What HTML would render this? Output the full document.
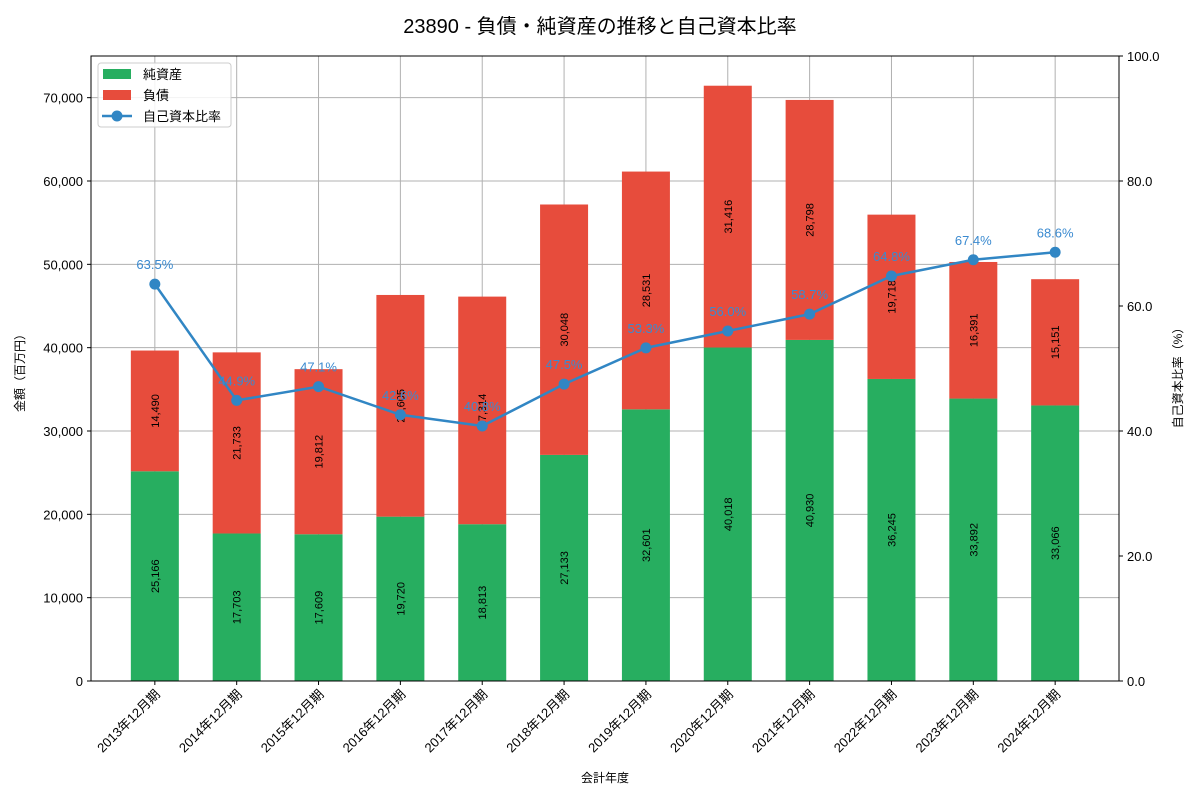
<!DOCTYPE html>
<html><head><meta charset="utf-8"><style>
body{margin:0;background:#fff;font-family:"Liberation Sans","Noto Sans CJK JP",sans-serif}
</style></head><body>
<svg id="c" width="1200" height="800" xmlns="http://www.w3.org/2000/svg" font-family="Liberation Sans, Noto Sans CJK JP, sans-serif">
<text x="600" y="33" text-anchor="middle" font-size="20" fill="#000">23890 - 負債・純資産の推移と自己資本比率</text>
<g id="g"></g>
</svg>
<script>
const categories=["2013年12月期","2014年12月期","2015年12月期","2016年12月期","2017年12月期","2018年12月期","2019年12月期","2020年12月期","2021年12月期","2022年12月期","2023年12月期","2024年12月期"];
const netAssets=[25166,17703,17609,19720,18813,27133,32601,40018,40930,36245,33892,33066];
const liabilities=[14490,21733,19812,26605,27314,30048,28531,31416,28798,19718,16391,15151];
const ratio=[63.5,44.9,47.1,42.6,40.8,47.5,53.3,56.0,58.7,64.8,67.4,68.6];
const leftTicks=[0,10000,20000,30000,40000,50000,60000,70000];
const rightTicks=[0,20,40,60,80,100];
const X0=91,X1=1119,Y0=681,Y1=56;
const n=categories.length;
const step=(X1-X0)/(n-1+2*0.78);
const xs=i=>X0+step*(i+0.78);
const yL=v=>Y0-(v/75000)*(Y0-Y1);
const yR=v=>Y0-(v/100)*(Y0-Y1);
const g=document.getElementById('g');
const NS="http://www.w3.org/2000/svg";
function el(t,a,txt){const e=document.createElementNS(NS,t);for(const k in a)e.setAttribute(k,a[k]);if(txt!==undefined)e.textContent=txt;g.appendChild(e);return e;}
const fmt=v=>v.toLocaleString('en-US');
categories.forEach((c,i)=>{const e=el('line',{x1:xs(i),x2:xs(i),y1:Y1,y2:Y0,stroke:'#b0b0b0','stroke-width':1});

});
leftTicks.forEach(t=>{const e=el('line',{x1:X0,x2:X1,y1:yL(t),y2:yL(t),stroke:'#b0b0b0','stroke-width':1});


const l=el('text',{x:X0-8,y:yL(t)+5,'text-anchor':'end','font-size':13},fmt(t));


el('line',{x1:X0-4,x2:X0,y1:yL(t),y2:yL(t),stroke:'#000'});});
rightTicks.forEach(t=>{const l=el('text',{x:X1+8,y:yR(t)+5,'font-size':13},t.toFixed(1));


el('line',{x1:X1,x2:X1+4,y1:yR(t),y2:yR(t),stroke:'#000'});});
const bw=48;
categories.forEach((c,i)=>{
const x=xs(i);const a=netAssets[i],l=liabilities[i];
const b1=el('rect',{x:x-bw/2,y:yL(a),width:bw,height:Y0-yL(a),fill:'#27ae60'});


const b2=el('rect',{x:x-bw/2,y:yL(a+l),width:bw,height:yL(a)-yL(a+l),fill:'#e74c3c'});


[[a/2,a],[a+l/2,l]].forEach(([m,v])=>{const ym=yL(m);
const t=el('text',{x:x+4,y:ym,'text-anchor':'middle','font-size':11,transform:`rotate(-90 ${x+4} ${ym})`},fmt(v));

});
const tl=el('text',{x:x+6,y:Y0+14,'text-anchor':'end','font-size':13,transform:`rotate(-45 ${x+6} ${Y0+14})`},c);


el('line',{x1:x,x2:x,y1:Y0,y2:Y0+4,stroke:'#000'});
});
const pl=el('polyline',{points:ratio.map((r,i)=>xs(i)+','+yR(r)).join(' '),fill:'none',stroke:'#3186c4','stroke-width':2.5});


ratio.forEach((r,i)=>{const p=el('circle',{cx:xs(i),cy:yR(r),r:5.5,fill:'#3186c4'});


const t=el('text',{x:xs(i),y:yR(r)-15,'text-anchor':'middle','font-size':13,fill:'#3a8ad0'},r.toFixed(1)+'%');

});
el('rect',{x:X0,y:Y1,width:X1-X0,height:Y0-Y1,fill:'none',stroke:'#000','stroke-width':1});
const xt=el('text',{x:(X0+X1)/2,y:782,'text-anchor':'middle','font-size':12},'会計年度');


const yt=el('text',{x:24,y:370,'text-anchor':'middle','font-size':12,transform:'rotate(-90 24 370)'},'金額（百万円）');


const y2=el('text',{x:1182,y:375,'text-anchor':'middle','font-size':12,transform:'rotate(-90 1182 375)'},'自己資本比率（%）');


const lg=el('rect',{x:98,y:63,width:133,height:64,fill:'#fff','fill-opacity':0.85,stroke:'#ccc',rx:3});


el('rect',{x:103,y:69,width:28,height:10,fill:'#27ae60'});
el('rect',{x:103,y:90,width:28,height:10,fill:'#e74c3c'});
el('line',{x1:102,x2:132,y1:116,y2:116,stroke:'#3186c4','stroke-width':2.5});
el('circle',{cx:117,cy:116,r:5.5,fill:'#3186c4'});
[['純資産',79],['負債',100],['自己資本比率',121]].forEach(([t,y])=>{const e=el('text',{x:143,y:y,'font-size':13},t);

});
</script>
</body></html>
